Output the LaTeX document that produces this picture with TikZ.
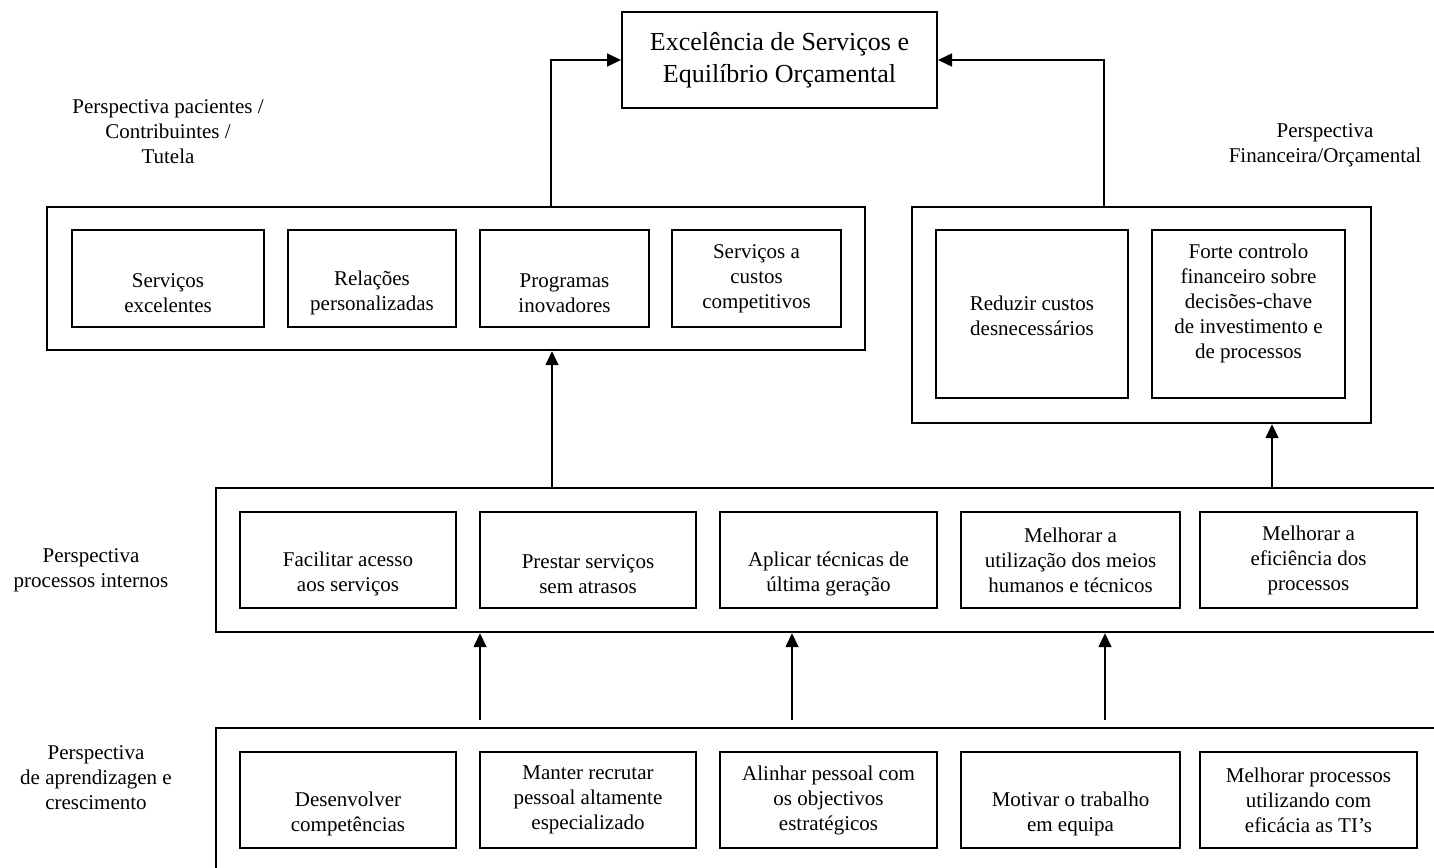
\documentclass[tikz,border=0pt]{standalone}
\usepackage{fontspec}
\setmainfont{Liberation Serif}
\usetikzlibrary{arrows.meta}

\tikzset{
  txt/.style={font=\fontsize{21}{25}\selectfont, align=center, inner sep=0pt},
  box/.style={txt, draw, line width=2pt},
  group/.style={draw, line width=2.4pt, inner sep=0pt},
  arr/.style={line width=1.6pt, -{Triangle[width=13pt,length=14pt]}},
}
% an empty leading line, so short texts sit low in their boxes
\newcommand{\blankline}{\strut\\}
% extra room below the last line, lifting the text a little
\newcommand{\liftpad}{\\[-7pt]\strut}

\begin{document}
\begin{tikzpicture}[x=1pt, y=-1pt]
\useasboundingbox (0,0) rectangle (1434,867);
\clip (0,0) rectangle (1434,867);

% goal at the top
\node[box, font=\fontsize{26}{32}\selectfont, minimum width=315pt, minimum height=96pt]
  (top) at (779.5,60) {Excelência de Serviços e\\Equilíbrio Orçamental};

% side captions
\node[txt] (lblA) at (168,132) {Perspectiva pacientes /\\Contribuintes /\\Tutela};
\node[txt] (lblB) at (1325,145) {Perspectiva\\Financeira/Orçamental};
\node[txt] (lblC) at (91,570) {Perspectiva\\processos internos};
\node[txt] (lblD) at (96,778) {Perspectiva\\de aprendizagen e\\crescimento};

% group frames
\node[group, minimum width=818pt, minimum height=143pt] (c1) at (456,278.5) {};
\node[group, minimum width=459pt, minimum height=216pt] (c2) at (1141.5,315) {};
\node[group, minimum width=1244pt, minimum height=144pt] (c3) at (838,560) {};
\node[group, minimum width=1244pt, minimum height=162pt] (c4) at (838,809) {};

% customers / stakeholders
\begin{scope}[every node/.style={box, minimum height=97pt}]
\node[minimum width=192pt] (s1) at (168,278.5) {\blankline Serviços\\excelentes};
\node[minimum width=168pt] (s2) at (372,278.5) {\blankline Relações\\personalizadas};
\node[minimum width=169pt] (s3) at (564.5,278.5) {\blankline Programas\\inovadores};
\node[minimum width=169pt] (s4) at (756.5,278.5) {Serviços a\\custos\\competitivos};
\end{scope}

% financial
\begin{scope}[every node/.style={box, minimum height=168pt}]
\node[minimum width=192pt] (f1) at (1032,314) {\blankline\blankline Reduzir custos\\desnecessários\\\strut\liftpad};
\node[minimum width=193pt] (f2) at (1248.5,314) {Forte controlo\\financeiro sobre\\decisões-chave\\de investimento e\\de processos\liftpad};
\end{scope}

% internal processes
\begin{scope}[every node/.style={box, minimum height=96pt}]
\node[minimum width=216pt] (p1) at (348,560) {\blankline Facilitar acesso\\aos serviços};
\node[minimum width=216pt] (p2) at (588,560) {\blankline Prestar serviços\\sem atrasos};
\node[minimum width=217pt] (p3) at (828.5,560) {\blankline Aplicar técnicas de\\última geração};
\node[minimum width=219pt] (p4) at (1070.5,560) {Melhorar a\\utilização dos meios\\humanos e técnicos};
\node[minimum width=217pt] (p5) at (1308.5,560) {Melhorar a\\eficiência dos\\processos};
\end{scope}

% learning and growth
\begin{scope}[every node/.style={box, minimum height=96pt}]
\node[minimum width=216pt] (l1) at (348,800) {\blankline Desenvolver\\competências};
\node[minimum width=216pt] (l2) at (588,800) {Manter recrutar\\pessoal altamente\\especializado};
\node[minimum width=217pt] (l3) at (828.5,800) {Alinhar pessoal com\\os objectivos\\estratégicos};
\node[minimum width=219pt] (l4) at (1070.5,800) {\blankline Motivar o trabalho\\em equipa};
\node[minimum width=217pt] (l5) at (1308.5,800) {Melhorar processos\\utilizando com\\eficácia as TI’s};
\end{scope}

% connector origins on the frame edges
\coordinate (o1) at (551,207);
\coordinate (o2) at (1104,207);
\coordinate (o3) at (552,488);
\coordinate (o4) at (1272,488);
\coordinate (o5) at (480,720);
\coordinate (o6) at (792,720);
\coordinate (o7) at (1105,720);

% connectors
\draw[arr] (o1) |- (top);
\draw[arr] (o2) |- (top);
\draw[arr] (o3) -- (o3 |- c1.south);
\draw[arr] (o4) -- (o4 |- c2.south);
\draw[arr] (o5) -- (o5 |- c3.south);
\draw[arr] (o6) -- (o6 |- c3.south);
\draw[arr] (o7) -- (o7 |- c3.south);
\end{tikzpicture}
\end{document}
